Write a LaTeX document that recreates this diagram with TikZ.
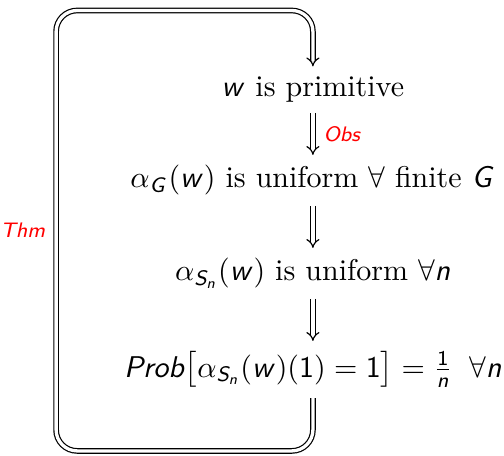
\documentclass[tikz,border=0pt]{standalone}
\usepackage{tikz}
\usetikzlibrary{arrows.meta,positioning}

% sans-serif math letters and digits, greek stays serif
\DeclareSymbolFont{sfslanted}{OT1}{cmss}{m}{sl}
\DeclareSymbolFont{sfupright}{OT1}{cmss}{m}{n}
\newcommand\sfmathletter[1]{\DeclareMathSymbol{#1}{\mathalpha}{sfslanted}{`#1}}
\sfmathletter{w}\sfmathletter{G}\sfmathletter{S}\sfmathletter{n}
\sfmathletter{P}\sfmathletter{r}\sfmathletter{o}\sfmathletter{b}
\sfmathletter{O}\sfmathletter{s}\sfmathletter{T}\sfmathletter{h}\sfmathletter{m}
\DeclareMathSymbol{1}{\mathalpha}{sfupright}{`1}

\begin{document}
\begin{tikzpicture}[
  stmt/.style={inner sep=3.3pt},
  imp/.style={double, double distance=1.1pt, line width=0.4pt, -{Implies}},
  lbl/.style={font=\scriptsize, text=red},
  node distance=14pt,
]
\useasboundingbox (0,0) rectangle (168pt,-151.7pt);

\node[stmt, anchor=base] (prim) at (104.3pt,-32.2pt) {$w$ is primitive};
\node[stmt, below=of prim] (unifG) {$\alpha_G(w)$ is uniform $\forall$ finite $G$};
\node[stmt, below=of unifG] (unifS) {$\alpha_{S_n}(w)$ is uniform $\forall n$};
\node[stmt, below=of unifS] (prob) {$Prob\big[\alpha_{S_n}(w)(1)=1\big]=\frac{1}{n}\;\;\forall n$};

\draw[imp] (prim) -- node[lbl, right] {$Obs$} (unifG);
\draw[imp] (unifG) -- (unifS);
\draw[imp] (unifS) -- (prob);

% the way back round
\coordinate (loopbot) at (18.7pt,-150.3pt);
\coordinate (looptop) at (18.7pt,-3.5pt);
\draw[imp, rounded corners=7pt] (prob.south) -- (prob.south |- loopbot) -- (loopbot)
  -- node[lbl, left] {$Thm$} (looptop) -- (looptop -| prim.north) -- (prim.north);

\end{tikzpicture}
\end{document}
